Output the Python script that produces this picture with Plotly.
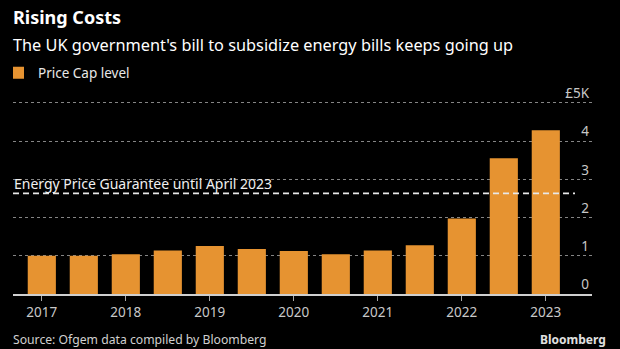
import plotly.graph_objects as go

# Ofgem price cap level, in thousands of pounds per year
periods = ["2017-01", "2017-07", "2018-01", "2018-07", "2019-01", "2019-07", "2020-01",
           "2020-07", "2021-01", "2021-07", "2022-01", "2022-07", "2023-01"]
price_cap = [1.00, 1.00, 1.04, 1.137, 1.254, 1.179, 1.126, 1.042, 1.138, 1.277, 1.971, 3.549, 4.279]

year_ticks = ["2017-01", "2018-01", "2019-01", "2020-01", "2021-01", "2022-01", "2023-01"]
year_labels = ["2017", "2018", "2019", "2020", "2021", "2022", "2023"]

y_ticks = [0, 1, 2, 3, 4, 5]
y_labels = ["0", "1", "2", "3", "4", "£5K"]

guarantee_level = 2.63
guarantee_label = "Energy Price Guarantee until April 2023"

ORANGE = "#E69331"
FONT = "Noto Sans"

W, H = 620, 349
L, R, T, B = 13, 28, 80, 55
ph = H - T - B
PX_PER_K = 38.25


def py(pix):
    # pixel row (from top) to paper y
    return (H - B - pix) / ph


def px(pix):
    # pixel column to paper x
    return (pix - L) / (W - L - R)


fig = go.Figure()
fig.add_trace(go.Bar(
    x=periods, y=price_cap, name="Price Cap level",
    marker=dict(color=ORANGE, line=dict(width=0)),
    hoverinfo="skip",
))

# Energy Price Guarantee reference line
fig.add_shape(type="line", xref="paper", yref="y", x0=0, x1=px(575),
              y0=guarantee_level, y1=guarantee_level,
              line=dict(color="#e8e8e8", width=1.6, dash="6px,4px"), layer="above")
fig.add_annotation(xref="paper", yref="y", x=0, y=guarantee_level, text=guarantee_label,
                   showarrow=False, xanchor="left", yanchor="bottom", yshift=-2, xshift=-1,
                   font=dict(family=FONT, size=14, color="#f0f0f0"))

# Title, subtitle, source and logo
fig.add_annotation(xref="paper", yref="paper", x=px(12), y=py(17), text="<b>Rising Costs</b>",
                   showarrow=False, xanchor="left", yanchor="middle", xshift=-1,
                   font=dict(family=FONT, size=18, color="#ffffff"))
fig.add_annotation(xref="paper", yref="paper", x=px(12), y=py(45),
                   text="The UK government's bill to subsidize energy bills keeps going up",
                   showarrow=False, xanchor="left", yanchor="middle", xshift=-1,
                   font=dict(family=FONT, size=16.3, color="#ffffff"))
fig.add_annotation(xref="paper", yref="paper", x=px(12), y=py(339),
                   text="Source: Ofgem data compiled by Bloomberg",
                   showarrow=False, xanchor="left", yanchor="middle", xshift=-1,
                   font=dict(family=FONT, size=12.2, color="#d0d0d0"))
fig.add_annotation(xref="paper", yref="paper", x=px(608), y=py(339), text="<b>Bloomberg</b>",
                   showarrow=False, xanchor="right", yanchor="middle",
                   font=dict(family=FONT, size=12, color="#e0e0e0"))

fig.update_layout(
    width=W, height=H,
    margin=dict(l=L, r=R, t=T, b=B),
    paper_bgcolor="#000000", plot_bgcolor="#000000",
    bargap=0.33,
    showlegend=True,
    legend=dict(x=0, y=py(73), xanchor="left", yanchor="middle",
                orientation="h", bgcolor="rgba(0,0,0,0)", borderwidth=0,
                font=dict(family=FONT, size=13.5, color="#e8e8e8"),
                itemwidth=30, indentation=-15),
    font=dict(family=FONT, color="#cccccc"),
)

fig.update_xaxes(
    type="category", range=[-0.686, 13.1],
    tickmode="array", tickvals=year_ticks, ticktext=year_labels,
    ticks="outside", ticklen=5, tickwidth=1, tickcolor="#aaaaaa",
    tickfont=dict(family=FONT, size=13.5, color="#c8c8c8"),
    showline=True, linecolor="#cfcfcf", linewidth=1.5,
    showgrid=False, zeroline=False, fixedrange=True,
)
fig.update_yaxes(
    range=[0, ph / PX_PER_K], side="right",
    tickmode="array", tickvals=y_ticks, ticktext=y_labels,
    ticklabelposition="inside top", ticks="",
    tickfont=dict(family=FONT, size=13.5, color="#c8c8c8"),
    showgrid=True, gridcolor="#858585", gridwidth=1, griddash="dot",
    zeroline=False, showline=False, fixedrange=True,
)

fig.write_html("out.html")
